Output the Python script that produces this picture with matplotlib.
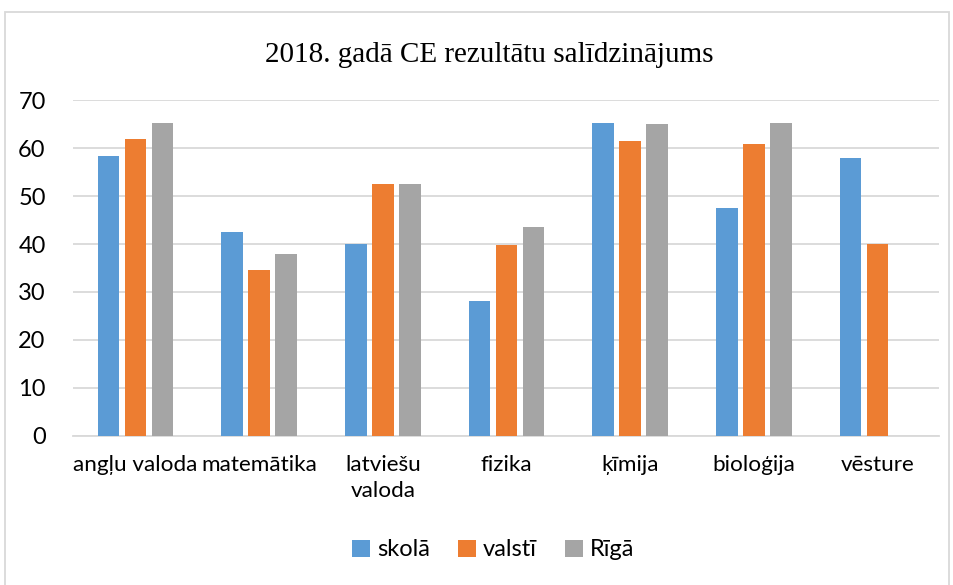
import numpy as np
import matplotlib.pyplot as plt
from matplotlib.patches import Rectangle

categories = ['angļu valoda', 'matemātika', 'latviešu\nvaloda', 'fizika', 'ķīmija', 'bioloģija', 'vēsture']
skola = [58.3, 42.6, 40.1, 28.1, 65.3, 47.4, 58.0]
valsti = [61.8, 34.5, 52.5, 39.7, 61.4, 60.8, 39.9]
riga = [65.2, 38.0, 52.6, 43.6, 65.1, 65.2, np.nan]
series = ['skolā', 'valstī', 'Rīgā']
colors = ['#5b9bd5', '#ed7d31', '#a5a5a5']

plt.rcParams['font.family'] = ['Lato', 'DejaVu Sans']

fig = plt.figure(figsize=(9.54, 5.85), dpi=100)
ax = fig.add_axes([73.5/954, 1 - 436/585, 866/954, 336/585])

x = np.arange(len(categories))
w = 0.175; step = 0.218
for i, (vals, name, c) in enumerate(zip([skola, valsti, riga], series, colors)):
    ax.bar(x + (i - 1) * step, vals, w, color=c, label=name, zorder=3)

ax.set_xlim(-0.5, len(categories) - 0.5)
ax.set_ylim(0, 70)
ax.set_yticks(range(0, 71, 10))
ax.set_xticks(x)
ax.set_xticklabels(categories, fontsize=16.2, linespacing=1.35)
ax.tick_params(axis='y', labelsize=17, length=0, pad=20)
ax.tick_params(axis='x', length=0, pad=14)
ax.grid(axis='y', color='#d9d9d9', linewidth=1.3, zorder=0)
for s in ['top', 'right', 'left']:
    ax.spines[s].set_visible(False)
ax.spines['bottom'].set_color('#d9d9d9')
ax.spines['bottom'].set_linewidth(1.3)

fig.text(489/954, 1 - 55/585, '2018. gadā CE rezultātu salīdzinājums', ha='center', va='center',
         fontsize=21, family='Liberation Serif')

fig.legend(loc='center', bbox_to_anchor=(493/954, 1 - 550/585), ncol=3, frameon=False,
           fontsize=17, handlelength=0.75, handleheight=0.75, handletextpad=0.3, columnspacing=1.2)

fig.patches.append(Rectangle((5/954, -0.01), 944/954, 1 - 12/585 + 0.01, transform=fig.transFigure,
                             fill=False, edgecolor='#d9d9d9', linewidth=1.3))

fig.savefig('out.png', dpi=100)
